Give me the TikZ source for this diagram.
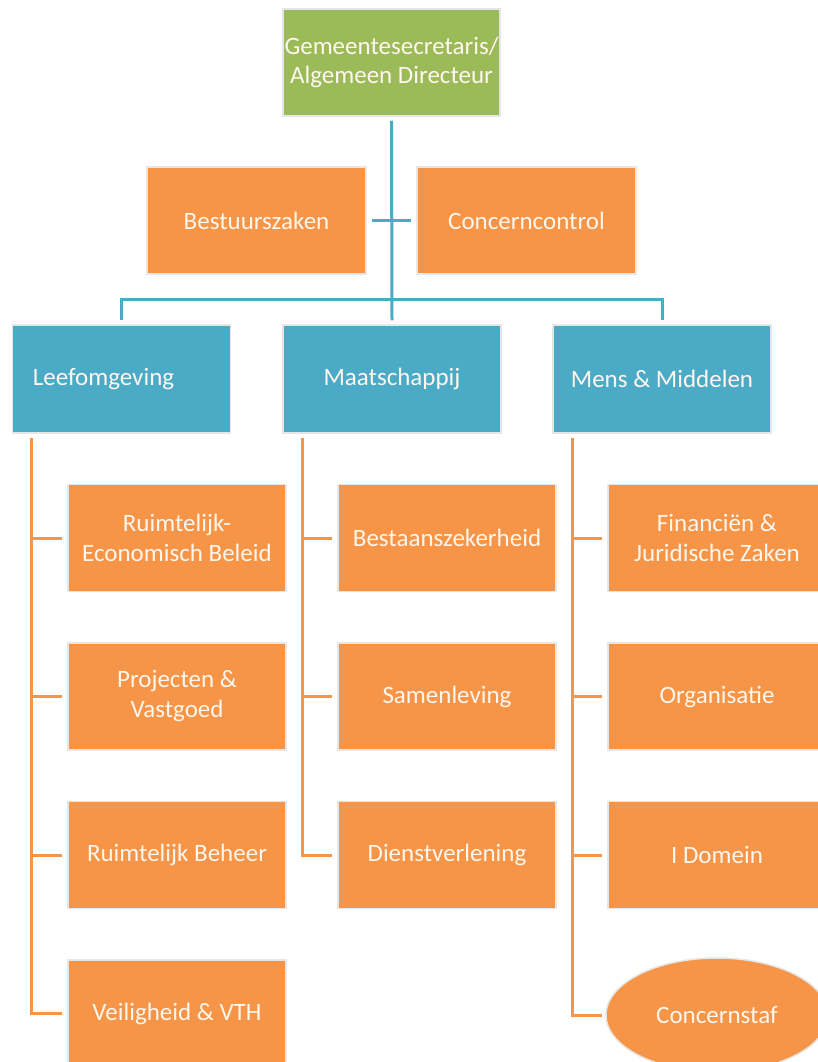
\documentclass[tikz,border=0pt]{standalone}
\usepackage{fontspec}
\setmainfont{Carlito}
\usetikzlibrary{shapes.geometric}
\definecolor{cgreen}{HTML}{9BBB59}
\definecolor{corange}{HTML}{F69547}
\definecolor{cblue}{HTML}{4BABC6}
\definecolor{cedge}{HTML}{E6E6E6}
\definecolor{ctext}{HTML}{FFF6EE}
\tikzset{
  box/.style={rectangle, draw=cedge, line width=1.5pt, minimum width=218pt, minimum height=107pt,
    inner sep=0pt, align=center, text=ctext, font=\fontsize{25}{30}\selectfont},
  topbox/.style={box, fill=cgreen, minimum width=217pt, font=\fontsize{25}{29}\selectfont},
  unitbox/.style={box, fill=corange},
  deptbox/.style={box, fill=cblue, minimum height=108pt},
  ovalbox/.style={ellipse, fill=corange, draw=cedge, line width=1.5pt, minimum width=222pt, minimum height=114pt,
    inner sep=0pt, text=ctext, font=\fontsize{25}{30}\selectfont},
  bline/.style={draw=cblue, line width=3pt},
  oline/.style={draw=corange, line width=3pt},
}
\begin{document}
\begin{tikzpicture}[x=1pt,y=-1pt]
\useasboundingbox (0,0) rectangle (817,1062);
\fill[white] (0,0) rectangle (817,1062);
% top
\node[topbox] (top) at (391.5,62.5) {Gemeentesecretaris/\\Algemeen Directeur};
% staff
\node[unitbox, minimum width=219pt] (bestuur) at (256.5,220.5) {Bestuurszaken};
\node[unitbox, minimum width=219pt] (concern) at (526.5,220.5) {Concerncontrol};
% departments
\node[deptbox] (leef) at (121.5,379) {\hspace*{-36pt}Leefomgeving};
\node[deptbox] (maat) at (392,379) {Maatschappij};
\node[deptbox] (mens) at (662,379) {Mens \& Middelen};
% left column
\node[unitbox] (ruim) at (177,538) {Ruimtelijk-\\Economisch Beleid};
\node[unitbox] (proj) at (177,696.5) {Projecten \&\\Vastgoed};
\node[unitbox] (rbeh) at (177,855) {Ruimtelijk Beheer};
\node[unitbox] (veil) at (177,1013.5) {Veiligheid \& VTH};
% middle column
\node[unitbox] (best) at (447,538) {Bestaanszekerheid};
\node[unitbox] (samen) at (447,696.5) {Samenleving};
\node[unitbox] (dienst) at (447,855) {Dienstverlening};
% right column
\node[unitbox] (fin) at (717,538) {Financiën \&\\Juridische Zaken};
\node[unitbox] (org) at (717,696.5) {Organisatie};
\node[unitbox] (idom) at (717,855) {I Domein};
\node[ovalbox] (staf) at (717,1015) {Concernstaf};
% blue connectors
\draw[bline] ([yshift=-4pt]top.south) -- ([yshift=4pt]maat.north);
\draw[bline] ([xshift=5pt]bestuur.east) -- ([xshift=-5pt]concern.west);
\draw[bline] ([yshift=25pt]leef.north) -- ([yshift=25pt]mens.north);
\draw[bline] ([yshift=26.5pt]leef.north) -- ([yshift=4pt]leef.north);
\draw[bline] ([yshift=26.5pt]mens.north) -- ([yshift=4pt]mens.north);
% orange connectors
\coordinate (lx) at ([xshift=20pt,yshift=-4pt]leef.south west);
\coordinate (mx) at ([xshift=20pt,yshift=-4pt]maat.south west);
\coordinate (rx) at ([xshift=20pt,yshift=-4pt]mens.south west);
\draw[oline] (lx) |- ([xshift=-5pt]veil.west);
\draw[oline] ([xshift=-5pt]ruim.west) -- (lx |- ruim.west);
\draw[oline] ([xshift=-5pt]proj.west) -- (lx |- proj.west);
\draw[oline] ([xshift=-5pt]rbeh.west) -- (lx |- rbeh.west);
\draw[oline] (mx) |- ([xshift=-5pt]dienst.west);
\draw[oline] ([xshift=-5pt]best.west) -- (mx |- best.west);
\draw[oline] ([xshift=-5pt]samen.west) -- (mx |- samen.west);
\draw[oline] (rx) |- ([xshift=-3pt]staf.west);
\draw[oline] ([xshift=-5pt]fin.west) -- (rx |- fin.west);
\draw[oline] ([xshift=-5pt]org.west) -- (rx |- org.west);
\draw[oline] ([xshift=-5pt]idom.west) -- (rx |- idom.west);
\end{tikzpicture}
\end{document}
